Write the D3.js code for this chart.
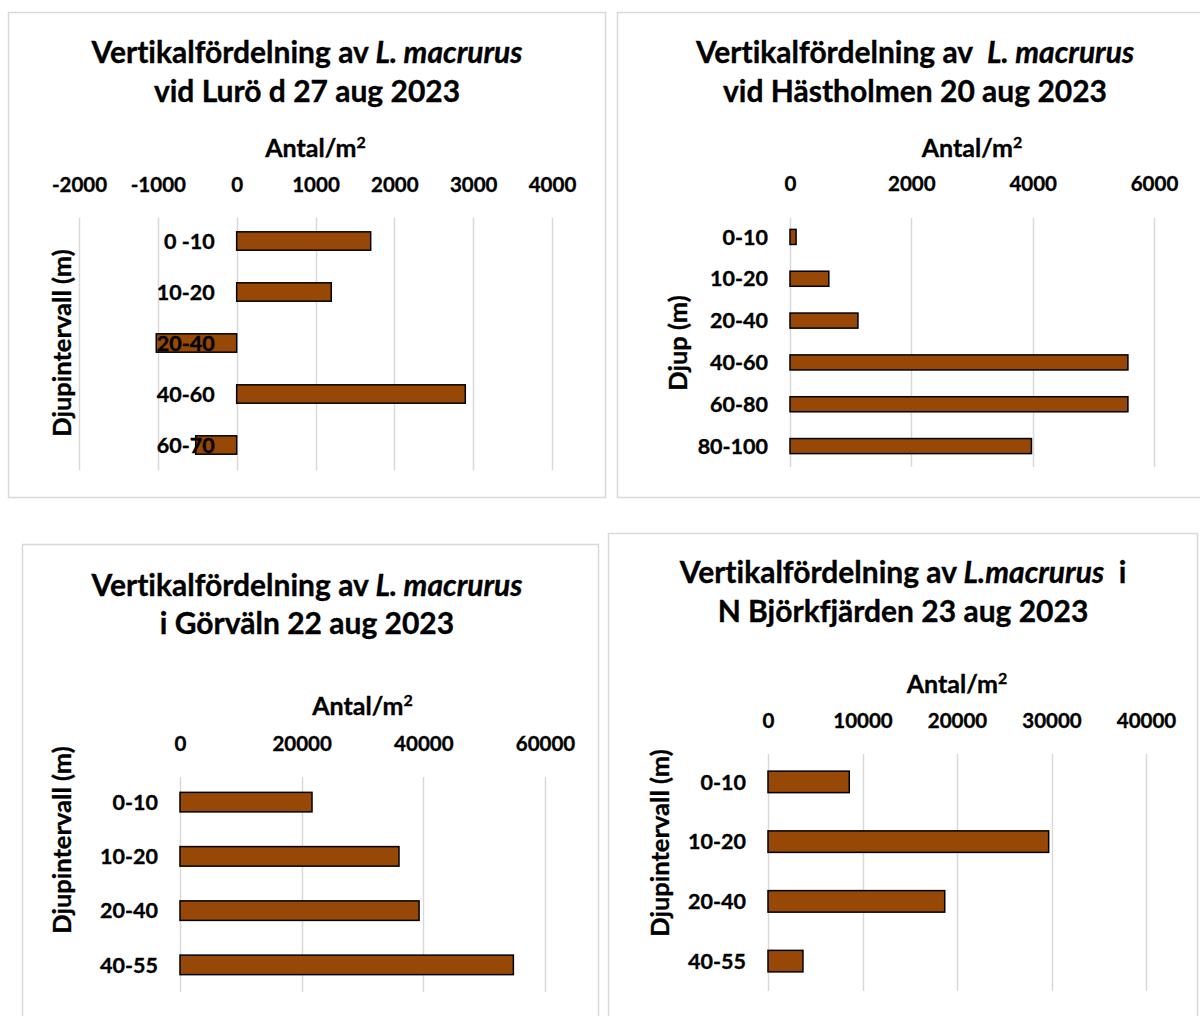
<!DOCTYPE html>
<html>
<head>
<meta charset="utf-8">
<script src="https://cdn.jsdelivr.net/npm/d3@7"></script>
<style>
  html, body { margin: 0; padding: 0; background: #fff; }
  svg { display: block; font-family: Lato, "Noto Sans", sans-serif; font-weight: 700; }
  text { white-space: pre; fill: #000; font-variant-ligatures: none; font-feature-settings: "liga" 0, "clig" 0; }
</style>
</head>
<body>
<svg id="chart" width="1200" height="1016"></svg>
<script>
// ---- Data: vertical distribution of L. macrurus (individuals per m²) ----
const luroCategories   = ["0 -10", "10-20", "20-40", "40-60", "60-70"];
const luroValues       = [1700, 1200, -1020, 2900, -520];
const luroTicks        = [-2000, -1000, 0, 1000, 2000, 3000, 4000];
const luroTitle        = [["Vertikalfördelning av ", false], ["L. macrurus", true]];
const luroSubtitle     = "vid Lurö d 27 aug 2023";
const luroYTitle       = "Djupintervall (m)";

const hastCategories   = ["0-10", "10-20", "20-40", "40-60", "60-80", "80-100"];
const hastValues       = [100, 640, 1120, 5570, 5570, 3980];
const hastTicks        = [0, 2000, 4000, 6000];
const hastTitle        = [["Vertikalfördelning av  ", false], ["L. macrurus", true]];
const hastSubtitle     = "vid Hästholmen 20 aug 2023";
const hastYTitle       = "Djup (m)";

const gorvCategories   = ["0-10", "10-20", "20-40", "40-55"];
const gorvValues       = [21700, 36000, 39300, 54800];
const gorvTicks        = [0, 20000, 40000, 60000];
const gorvTitle        = [["Vertikalfördelning av ", false], ["L. macrurus", true]];
const gorvSubtitle     = "i Görväln 22 aug 2023";
const gorvYTitle       = "Djupintervall (m)";

const bjorCategories   = ["0-10", "10-20", "20-40", "40-55"];
const bjorValues       = [8600, 29700, 18700, 3700];
const bjorTicks        = [0, 10000, 20000, 30000, 40000];
const bjorTitle        = [["Vertikalfördelning av ", false], ["L.macrurus", true], ["  i", false]];
const bjorSubtitle     = "N Björkfjärden 23 aug 2023";
const bjorYTitle       = "Djupintervall (m)";

const xAxisTitleBase = "Antal/m";
const xAxisTitleSup = "2";

// ---- Styling ----
const BAR_FILL = "#974806";
const GRID = "#d9d9d9";
const FRAME = "#d9d9d9";
const HEAVY = 0.35; // slight outline to give the heavier bold look

// ---- Panel layout ----
const panels = [
  { cats: luroCategories, vals: luroValues, ticks: luroTicks, title: luroTitle, sub: luroSubtitle, ytitle: luroYTitle,
    frame: [8.5, 12.5, 597, 485], xr: [79, 552], yr: [215.5, 470.5],
    titleX: 307, titleY: [63, 102], axTitleY: 157, tickY: 185, yTitlePos: [62, 343] },
  { cats: hastCategories, vals: hastValues, ticks: hastTicks, title: hastTitle, sub: hastSubtitle, ytitle: hastYTitle,
    frame: [617.5, 12.5, 600, 485], xr: [790, 1154], yr: [216, 467],
    titleX: 915, titleY: [63, 102], axTitleY: 157, tickY: 184, yTitlePos: [678, 343] },
  { cats: gorvCategories, vals: gorvValues, ticks: gorvTicks, title: gorvTitle, sub: gorvSubtitle, ytitle: gorvYTitle,
    frame: [22.5, 544.5, 576, 500], xr: [180, 545], yr: [775, 992],
    titleX: 307, titleY: [596, 634], axTitleY: 715, tickY: 744, yTitlePos: [62, 840] },
  { cats: bjorCategories, vals: bjorValues, ticks: bjorTicks, title: bjorTitle, sub: bjorSubtitle, ytitle: bjorYTitle,
    frame: [608.5, 533.5, 589, 500], xr: [768, 1146], yr: [752, 991],
    titleX: 903, titleY: [583, 622], axTitleY: 693, tickY: 721, yTitlePos: [660, 843] }
];

const svg = d3.select("#chart");

function heavy(sel) {
  return sel.attr("stroke", "#000").attr("stroke-width", HEAVY).attr("paint-order", "stroke");
}

panels.forEach(p => {
  const g = svg.append("g");

  // chart frame
  g.append("rect")
    .attr("x", p.frame[0]).attr("y", p.frame[1])
    .attr("width", p.frame[2]).attr("height", p.frame[3])
    .attr("fill", "#fff").attr("stroke", FRAME).attr("stroke-width", 1.5);

  const x = d3.scaleLinear()
    .domain([d3.min(p.ticks), d3.max(p.ticks)])
    .range(p.xr);

  const y = d3.scaleBand()
    .domain(p.cats)
    .range(p.yr)
    .paddingInner(0.64)
    .paddingOuter(0.32);

  // title (two lines, species name in italics)
  const t1 = g.append("text")
    .attr("x", p.titleX).attr("y", p.titleY[0])
    .attr("text-anchor", "middle")
    .attr("font-size", 30)
    .call(heavy);
  p.title.forEach(([txt, it]) => {
    t1.append("tspan").text(txt).attr("font-style", it ? "italic" : "normal");
  });
  g.append("text")
    .attr("x", p.titleX).attr("y", p.titleY[1])
    .attr("text-anchor", "middle")
    .attr("font-size", 30)
    .call(heavy)
    .text(p.sub);

  // vertical gridlines (including the zero line)
  g.append("g").selectAll("line")
    .data(p.ticks)
    .join("line")
    .attr("x1", d => Math.round(x(d)) + 0.5)
    .attr("x2", d => Math.round(x(d)) + 0.5)
    .attr("y1", p.yr[0] + 2)
    .attr("y2", p.yr[1])
    .attr("stroke", GRID)
    .attr("stroke-width", 1.5);

  // top value axis labels
  const axis = d3.axisTop(x).tickValues(p.ticks).tickSize(0).tickPadding(0).tickFormat(d3.format("d"));
  const ax = g.append("g")
    .attr("transform", `translate(0,${p.tickY})`)
    .call(axis);
  ax.select(".domain").remove();
  ax.selectAll("text")
    .attr("y", 0).attr("dy", "0.36em")
    .attr("font-size", 20.5)
    .attr("font-family", "Lato, sans-serif")
    .attr("font-weight", 700)
    .attr("fill", "#000")
    .call(heavy)
    .text(d => d < 0 ? "-" + Math.abs(d) : String(d));

  // value axis title
  const at = g.append("text")
    .attr("x", (p.xr[0] + p.xr[1]) / 2)
    .attr("y", p.axTitleY)
    .attr("text-anchor", "middle")
    .attr("font-size", 25)
    .call(heavy);
  at.append("tspan").text(xAxisTitleBase);
  at.append("tspan").attr("font-size", 16).attr("dy", -9).text(xAxisTitleSup);

  // bars
  g.append("g").selectAll("rect")
    .data(p.cats.map((c, i) => ({ c, v: p.vals[i] })))
    .join("rect")
    .attr("x", d => x(Math.min(0, d.v)))
    .attr("y", d => y(d.c))
    .attr("width", d => Math.abs(x(d.v) - x(0)))
    .attr("height", y.bandwidth())
    .attr("fill", BAR_FILL)
    .attr("stroke", "#000")
    .attr("stroke-width", 1.5);

  // category labels next to the zero line, drawn over any negative bars
  g.append("g").selectAll("text")
    .data(p.cats)
    .join("text")
    .attr("x", x(0) - 22)
    .attr("y", d => y(d) + y.bandwidth() / 2)
    .attr("dy", "0.36em")
    .attr("text-anchor", "end")
    .attr("font-size", 21.5)
    .call(heavy)
    .text(d => d);

  // category axis title (rotated)
  g.append("text")
    .attr("transform", `translate(${p.yTitlePos[0]},${p.yTitlePos[1]}) rotate(-90)`)
    .attr("text-anchor", "middle")
    .attr("dy", "0.36em")
    .attr("font-size", 25.5)
    .call(heavy)
    .text(p.ytitle);
});
</script>
</body>
</html>
